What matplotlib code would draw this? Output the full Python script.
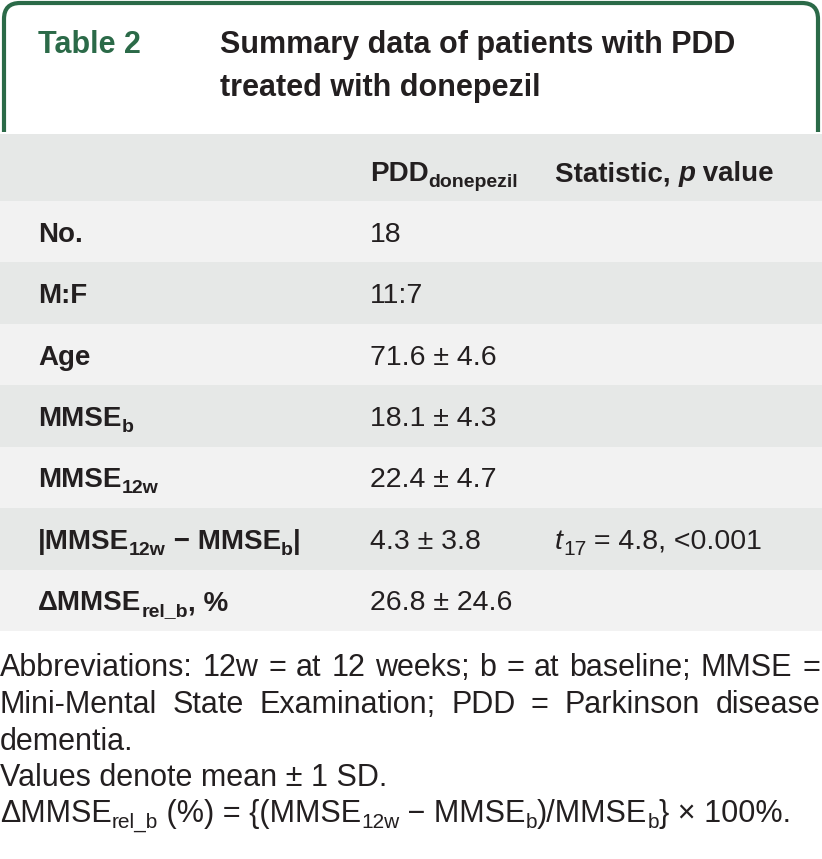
import re
import matplotlib
matplotlib.use("Agg")
import matplotlib.pyplot as plt
from matplotlib import font_manager
from matplotlib.patches import FancyBboxPatch, Rectangle

# table content
title_tag = "Table 2"
title_lines = ["Summary data of patients with PDD", "treated with donepezil"]
col_headers = ["", "PDD_{donepezil}", "Statistic, *p* value"]
row_labels = ["No.", "M:F", "Age", "MMSE_{b}", "MMSE_{12w}",
              "|MMSE_{12w} − MMSE_{b}|", "ΔMMSE_{rel_b}, %"]
values = ["18", "11:7", "71.6 ± 4.6", "18.1 ± 4.3", "22.4 ± 4.7",
          "4.3 ± 3.8", "26.8 ± 24.6"]
stats = ["", "", "", "", "", "*t*_{17} = 4.8, <0.001", ""]
notes = ["Abbreviations: 12w = at 12 weeks; b = at baseline; MMSE =",
         "Mini-Mental State Examination; PDD = Parkinson disease",
         "dementia.",
         "Values denote mean ± 1 SD.",
         "ΔMMSE_{rel_b} (%) = {(MMSE_{12w} − MMSE_{b})/MMSE_{b}} × 100%."]
notes_justify = [True, True, False, False, False]

GREEN = "#2b6a48"
INK = "#231f20"
GRAY = "#e6e8e7"
LIGHT = "#f2f2f2"

installed = {f.name for f in font_manager.fontManager.ttflist}
NARROW = "Liberation Sans Narrow" if "Liberation Sans Narrow" in installed else "Liberation Sans"
REG = "Liberation Sans"

fig = plt.figure(figsize=(8.22, 8.59), dpi=100)
ax = fig.add_axes([0, 0, 1, 1])
ax.set_xlim(0, 822)
ax.set_ylim(859, 0)
ax.axis("off")
renderer = fig.canvas.get_renderer()


def parse(s):
    # split "abc_{sub} *it*" into (text, sub, italic) runs
    runs = []
    for part in re.split(r"(_\{[^}]*\}|\*[^*]*\*)", s):
        if not part:
            continue
        if part.startswith("_{"):
            runs.append((part[2:-1], True, False))
        elif part.startswith("*"):
            runs.append((part[1:-1], False, True))
        else:
            runs.append((part, False, False))
    return runs


def draw(x, y, s, size, family, weight="normal", color=INK, subsize=None, suboff=6):
    subsize = subsize or size * 0.68
    for txt, sub, it in parse(s):
        t = ax.text(x, y + (suboff if sub else 0), txt,
                    fontsize=subsize if sub else size, family=[family, "DejaVu Sans"],
                    weight=weight, style="italic" if it else "normal",
                    color=color, va="baseline", ha="left")
        x += t.get_window_extent(renderer).width
    return x


def width_of(s, size, family, weight="normal", subsize=None):
    subsize = subsize or size * 0.68
    w = 0
    for txt, sub, it in parse(s):
        t = ax.text(0, 0, txt, fontsize=subsize if sub else size,
                    family=[family, "DejaVu Sans"], weight=weight,
                    style="italic" if it else "normal")
        w += t.get_window_extent(renderer).width
        t.remove()
    return w


# header box with rounded top corners
box = FancyBboxPatch((4, 3), 814, 220, boxstyle="round,pad=0,rounding_size=16",
                     fc="white", ec=GREEN, lw=3.0)
ax.add_patch(box)
box.set_clip_path(Rectangle((0, 0), 822, 132, transform=ax.transData))

ax.text(38, 53, title_tag, fontsize=22, weight="bold", color=GREEN,
        family=REG, va="baseline")
for i, line in enumerate(title_lines):
    ax.text(220, 53 + 43 * i, line, fontsize=22, weight="bold", color=INK,
            family=REG, va="baseline")

# table body
col_x = [38, 370, 555]
head_top, head_bot = 134, 201
row_h = 61.43
ax.add_patch(Rectangle((0, head_top), 822, head_bot - head_top, fc=GRAY, ec="none"))
for j, h in enumerate(col_headers):
    if h:
        draw(col_x[j], 181, h, 20, NARROW, weight="bold", subsize=14)

for i in range(len(row_labels)):
    top = head_bot + i * row_h
    ax.add_patch(Rectangle((0, top), 822, row_h, fc=LIGHT if i % 2 == 0 else GRAY, ec="none"))
    base = top + row_h / 2 + 10
    draw(col_x[0], base, row_labels[i], 20, NARROW, weight="bold", subsize=14)
    draw(col_x[1], base, values[i], 20.5, NARROW)
    if stats[i]:
        draw(col_x[2], base, stats[i], 20.5, NARROW, subsize=15)

# footnotes, first two lines fully justified
FN = 22
note_base = [676, 713, 750, 786, 822]
for line, yb, just in zip(notes, note_base, notes_justify):
    if just:
        words = line.split(" ")
        ws = [width_of(w, FN, NARROW, subsize=15) for w in words]
        gap = (820 - sum(ws)) / (len(words) - 1)
        x = 0
        for w, wd in zip(words, ws):
            draw(x, yb, w, FN, NARROW, subsize=15)
            x += wd + gap
    else:
        draw(0, yb, line, FN, NARROW, subsize=15)

fig.savefig("out.png", dpi=100)
